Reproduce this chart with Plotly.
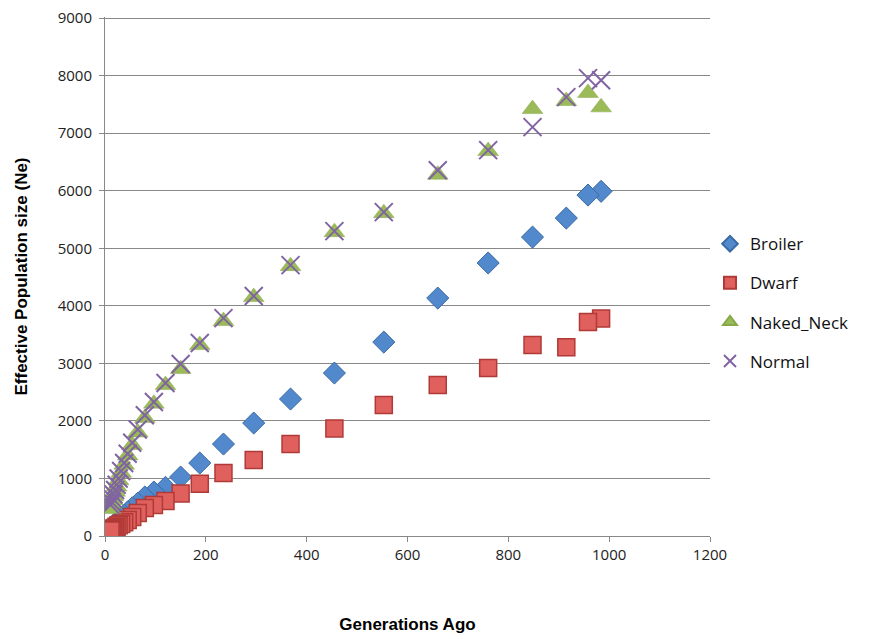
import plotly.graph_objects as go

generations = [984, 958, 915, 848, 760, 660, 553, 455, 368, 295, 235, 188, 150, 120,
               97, 79, 65, 54, 45, 38, 32, 27, 23, 20, 17, 15, 13, 11]

broiler = [5990, 5925, 5525, 5195, 4745, 4135, 3370, 2832, 2380, 1963, 1598, 1268, 1025, 845,
           764, 678, 570, 490, 420, 360, 310, 270, 240, 210, 190, 170, 150, 135]
dwarf = [3780, 3720, 3280, 3320, 2918, 2623, 2276, 1870, 1600, 1320, 1094, 910, 740, 608,
         540, 486, 400, 330, 280, 240, 210, 185, 160, 140, 125, 112, 104, 95]
naked_neck = [7450, 7700, 7560, 7420, 6690, 6280, 5611, 5281, 4690, 4152, 3735, 3318, 2901, 2623,
              2300, 2050, 1800, 1580, 1400, 1240, 1100, 970, 860, 770, 690, 620, 560, 470]
normal = [7920, 7957, 7627, 7106, 6706, 6358, 5629, 5299, 4708, 4170, 3787, 3353, 2988, 2658,
          2330, 2100, 1850, 1620, 1430, 1270, 1130, 1000, 890, 800, 720, 650, 590, 540]

y_ticks = [0, 1000, 2000, 3000, 4000, 5000, 6000, 7000, 8000, 9000]

series = [
    ("Broiler", broiler, dict(symbol="diamond", size=17, color="#5288CC",
                              line=dict(color="#3A6AA5", width=1))),
    ("Dwarf", dwarf, dict(symbol="square", size=17, color="#E0605D",
                          line=dict(color="#B03A37", width=1.5))),
    ("Naked_Neck", naked_neck, dict(symbol="triangle-up", size=18, color="#9BBB59",
                                    line=dict(color="#86A84A", width=0.5))),
    ("Normal", normal, dict(symbol="x-thin", size=18, color="#8064A2",
                            line=dict(color="#8064A2", width=2))),
]

fig = go.Figure()
for name, vals, mk in series:
    fig.add_trace(go.Scatter(x=generations, y=vals, mode="markers", name=name,
                             legendgroup=name, marker=mk))

fig.update_layout(
    width=873, height=639,
    margin=dict(l=97, r=171, t=9, b=111),
    paper_bgcolor="white", plot_bgcolor="white",
    font=dict(family="Open Sans, Liberation Sans, sans-serif", size=15, color="#222"),
    showlegend=True,
    legend=dict(x=1.0, y=0.597, xanchor="left", yanchor="top",
                font=dict(family="Open Sans, sans-serif", size=17, color="#111"),
                itemsizing="constant", itemwidth=30, tracegroupgap=14,
                bgcolor="rgba(0,0,0,0)"),
    xaxis=dict(range=[0, 1200], dtick=200, tick0=0, showgrid=False, zeroline=False,
               showline=True, linecolor="#888", linewidth=1, ticks="outside", ticklen=5,
               tickcolor="#888", automargin=False,
               title=dict(text="<b>Generations Ago</b>",
                          font=dict(family="Liberation Sans, Arial", size=17, color="#000"),
                          standoff=55)),
    yaxis=dict(range=[0, 9020], tickmode="array", tickvals=y_ticks,
               ticktext=[str(v) for v in y_ticks], ticklabeloverflow="allow",
               showgrid=True, gridcolor="#888",
               gridwidth=1, zeroline=False, showline=True, linecolor="#888", linewidth=1,
               ticks="outside", ticklen=5, tickcolor="#888", automargin=False,
               ticklabelstandoff=4,
               title=dict(text="<b>Effective Population size (Ne)</b>",
                          font=dict(family="Liberation Sans, Arial", size=17, color="#000"),
                          standoff=25)),
)

fig.write_html("out.html")
